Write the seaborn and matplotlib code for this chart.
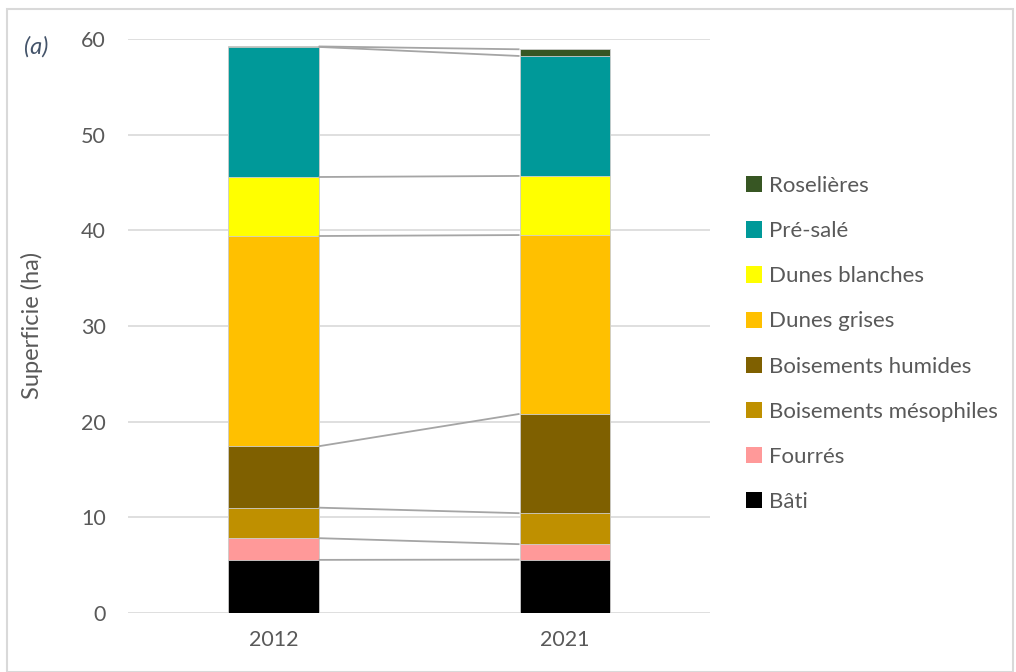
import numpy as np
import pandas as pd
import matplotlib
matplotlib.use("Agg")
import matplotlib.pyplot as plt
import seaborn as sns
from matplotlib.patches import Patch, Rectangle

years = ["2012", "2021"]
categories = ["Bâti", "Fourrés", "Boisements mésophiles", "Boisements humides",
              "Dunes grises", "Dunes blanches", "Pré-salé", "Roselières"]
vals_2012 = [5.54, 2.27, 3.19, 6.42, 21.98, 6.17, 13.60, 0.05]
vals_2021 = [5.57, 1.61, 3.24, 10.38, 18.70, 6.18, 12.54, 0.70]
colors = ["#000000", "#FF9999", "#BF9000", "#7F6000",
          "#FFC000", "#FFFF00", "#009999", "#375623"]

sns.set_theme(style="white")
plt.rcParams['font.family'] = ['Lato', 'DejaVu Sans']

fig = plt.figure(figsize=(10.16, 6.72), dpi=100)
ax = fig.add_axes([0.126, 0.088, 0.573, 0.854])

cum12 = np.cumsum(vals_2012)
cum21 = np.cumsum(vals_2021)
bw = 0.31
for i in range(len(categories) - 1, -1, -1):
    df = pd.DataFrame({"year": years, "val": [cum12[i], cum21[i]]})
    sns.barplot(data=df, x="year", y="val", color=colors[i], width=bw,
                edgecolor="#D0D0D0", linewidth=0.6, ax=ax, zorder=2,
                saturation=1)

# series lines between bars
for i in range(len(categories)):
    ax.plot([0 + bw / 2, 1 - bw / 2], [cum12[i], cum21[i]],
            color="#A5A5A5", lw=1.3, zorder=3, solid_capstyle="butt")

ax.set_xlim(-0.5, 1.5)
ax.set_ylim(0, 60)
ax.set_yticks(range(0, 61, 10))
ax.yaxis.grid(True, color="#D9D9D9", lw=1.2, zorder=0)
ax.set_axisbelow(True)
for s in ax.spines.values():
    s.set_visible(False)
ax.tick_params(axis="both", labelsize=15.5, colors="#595959", length=0)
ax.tick_params(axis="y", pad=16)
ax.tick_params(axis="x", pad=12)
ax.set_xlabel("")
ax.set_ylabel("Superficie (ha)", fontsize=17, color="#595959")
ax.yaxis.set_label_coords(-0.146, 0.5)

handles = [Patch(facecolor=colors[i], edgecolor="none", label=categories[i])
           for i in range(len(categories) - 1, -1, -1)]
leg = fig.legend(handles=handles, loc="upper left", bbox_to_anchor=(0.734, 0.738),
                 frameon=False, fontsize=16, handlelength=0.75, handleheight=0.75,
                 handletextpad=0.3, labelspacing=1.13, borderaxespad=0,
                 borderpad=0)
for t in leg.get_texts():
    t.set_color("#595959")

fig.text(0.024, 0.93, "(a)", fontsize=17, style="italic", color="#44546A",
         ha="left", va="center")

fig.patches.append(Rectangle((0.007, 0.0), 0.99, 0.987, transform=fig.transFigure,
                             fill=False, edgecolor="#D9D9D9", lw=1.5))

fig.savefig("out.png", dpi=100)
